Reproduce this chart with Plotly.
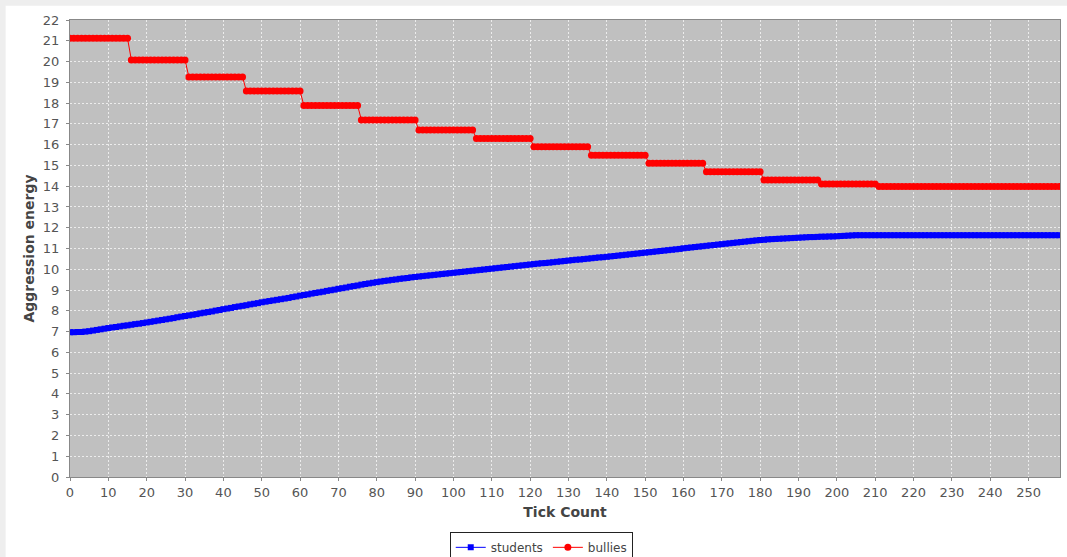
import plotly.graph_objects as go
import numpy as np

ticks = list(range(0, 259))

students = [
    6.97, 6.97, 6.98, 6.98, 7.00, 7.02, 7.05, 7.08, 7.11, 7.14,
    7.17, 7.20, 7.22, 7.25, 7.28, 7.30, 7.33, 7.36, 7.38, 7.41,
    7.44, 7.47, 7.50, 7.53, 7.56, 7.59, 7.62, 7.65, 7.69, 7.72,
    7.75, 7.78, 7.81, 7.84, 7.88, 7.91, 7.94, 7.97, 8.01, 8.04,
    8.08, 8.11, 8.14, 8.18, 8.21, 8.24, 8.27, 8.31, 8.34, 8.37,
    8.41, 8.44, 8.47, 8.50, 8.53, 8.56, 8.59, 8.62, 8.66, 8.69,
    8.73, 8.76, 8.79, 8.83, 8.86, 8.89, 8.92, 8.96, 8.99, 9.02,
    9.06, 9.09, 9.12, 9.16, 9.19, 9.22, 9.26, 9.29, 9.32, 9.35,
    9.38, 9.41, 9.44, 9.46, 9.49, 9.51, 9.54, 9.56, 9.58, 9.61,
    9.63, 9.65, 9.67, 9.69, 9.71, 9.73, 9.75, 9.77, 9.79, 9.81,
    9.83, 9.85, 9.87, 9.89, 9.91, 9.93, 9.95, 9.97, 9.99, 10.01,
    10.03, 10.05, 10.07, 10.09, 10.11, 10.13, 10.15, 10.17, 10.19, 10.21,
    10.23, 10.25, 10.27, 10.29, 10.30, 10.32, 10.34, 10.36, 10.38, 10.40,
    10.42, 10.44, 10.46, 10.47, 10.49, 10.51, 10.53, 10.55, 10.57, 10.58,
    10.60, 10.62, 10.64, 10.66, 10.68, 10.70, 10.72, 10.74, 10.76, 10.78,
    10.80, 10.82, 10.84, 10.86, 10.88, 10.90, 10.92, 10.94, 10.96, 10.98,
    11.01, 11.03, 11.05, 11.07, 11.09, 11.11, 11.13, 11.15, 11.17, 11.19,
    11.21, 11.23, 11.25, 11.27, 11.29, 11.31, 11.33, 11.35, 11.37, 11.39,
    11.41, 11.42, 11.44, 11.45, 11.46, 11.47, 11.48, 11.49, 11.50, 11.51,
    11.52, 11.53, 11.54, 11.55, 11.55, 11.56, 11.57, 11.57, 11.58, 11.58,
    11.59, 11.60, 11.61, 11.62, 11.63, 11.64, 11.64, 11.64, 11.64, 11.64,
    11.64, 11.64, 11.64, 11.64, 11.64, 11.64, 11.64, 11.64, 11.64, 11.64,
    11.64, 11.64, 11.64, 11.64, 11.64, 11.64, 11.64, 11.64, 11.64, 11.64,
    11.64, 11.64, 11.64, 11.64, 11.64, 11.64, 11.64, 11.64, 11.64, 11.64,
    11.64, 11.64, 11.64, 11.64, 11.64, 11.64, 11.64, 11.64, 11.64, 11.64,
    11.64, 11.64, 11.64, 11.64, 11.64, 11.64, 11.64, 11.64, 11.64,
]

# bullies: step levels and how many ticks each level lasts
bully_levels = [21.12, 20.08, 19.26, 18.58, 17.89, 17.19, 16.71, 16.29,
                15.90, 15.49, 15.10, 14.69, 14.30, 14.10, 13.99]
bully_runs = [16, 15, 15, 15, 15, 15, 15, 15, 15, 15, 15, 15, 15, 15, 48]
bullies = list(np.repeat(bully_levels, bully_runs))

fig = go.Figure()
fig.add_trace(go.Scatter(
    x=ticks, y=students, name="students", mode="lines+markers",
    line=dict(color="#0000FF", width=1),
    marker=dict(symbol="square", size=6, color="#0000FF", line=dict(width=0)),
))
fig.add_trace(go.Scatter(
    x=ticks, y=bullies, name="bullies", mode="lines+markers",
    line=dict(color="#FF0000", width=1),
    marker=dict(symbol="circle", size=7, color="#FF0000", line=dict(width=0)),
))

font_family = "DejaVu Sans"
grid = "rgba(255,255,255,0.7)"

fig.update_layout(
    width=1067, height=557,
    margin=dict(l=70, r=7, t=20, b=80, autoexpand=False),
    paper_bgcolor="white",
    plot_bgcolor="#C0C0C0",
    font=dict(family=font_family, size=13, color="#555555"),
    showlegend=True,
    legend=dict(
        orientation="h", x=0.476, xanchor="center", y=-0.12, yanchor="top",
        bordercolor="#222222", borderwidth=1, bgcolor="white",
        font=dict(size=12, color="#444444"),
        itemwidth=30, tracegroupgap=0,
    ),
    xaxis=dict(
        range=[0, 258.2], tick0=0, dtick=10, showgrid=True,
        gridcolor=grid, griddash="2px,2px", gridwidth=1,
        showline=True, linecolor="#888888", linewidth=1, mirror=True,
        ticks="outside", ticklen=3, tickcolor="#888888",
        zeroline=False, automargin=False,
        tickfont=dict(size=13, color="#555555"),
        title=dict(text="<b>Tick Count</b>", font=dict(size=14, color="#444444"), standoff=8),
    ),
    yaxis=dict(
        range=[0, 22], tick0=0, dtick=1, showgrid=True,
        gridcolor=grid, griddash="2px,2px", gridwidth=1,
        showline=True, linecolor="#888888", linewidth=1, mirror=True,
        ticks="outside", ticklen=3, tickcolor="#888888",
        zeroline=False, automargin=False, ticklabelstandoff=4,
        tickfont=dict(size=13, color="#555555"),
        title=dict(text="<b>Aggression energy</b>", font=dict(size=14, color="#444444"), standoff=4),
    ),
    shapes=[
        dict(type="rect", xref="paper", yref="paper",
             x0=-0.0715, x1=1.0075, y0=1.031, y1=1.046,
             fillcolor="#EEEEEE", line=dict(width=0), layer="below"),
        dict(type="rect", xref="paper", yref="paper",
             x0=-0.0715, x1=-0.065, y0=-0.176, y1=1.046,
             fillcolor="#EEEEEE", line=dict(width=0), layer="below"),
    ],
)

fig.write_html(
    "out.html",
    config={"displayModeBar": False},
    post_script="document.body.style.margin='0';document.body.style.overflow='hidden';",
)
